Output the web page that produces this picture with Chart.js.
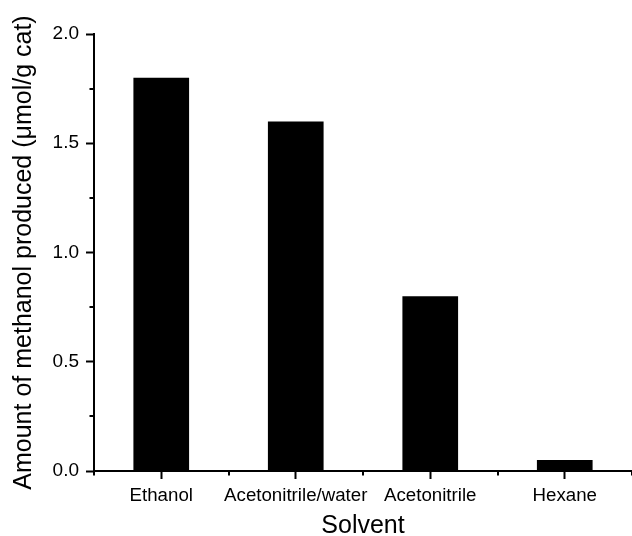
<!DOCTYPE html>
<html>
<head>
<meta charset="utf-8">
<script src="https://cdn.jsdelivr.net/npm/chart.js@4/dist/chart.umd.min.js"></script>
<style>
  html, body { margin: 0; padding: 0; background: #ffffff; }
  #wrap { width: 632px; height: 536px; }
</style>
</head>
<body>
<div id="wrap"><canvas id="c" width="632" height="536"></canvas></div>
<script>
// Methanol yield per solvent
const solvents = ['Ethanol', 'Acetonitrile/water', 'Acetonitrile', 'Hexane'];
const methanolYield = [1.80, 1.60, 0.80, 0.05];
const yMajorStep = 0.5;
const yMin = 0;
const yMax = 2.0;
const yMinorTicks = [0.25, 0.75, 1.25, 1.75];

const FONT = '"Liberation Sans", Arial, Helvetica, sans-serif';

// Short outward minor ticks on both axes
const minorTicks = {
  id: 'minorTicks',
  afterDraw(chart) {
    const { ctx, scales: { x, y }, chartArea } = chart;
    ctx.save();
    ctx.strokeStyle = '#000';
    ctx.lineWidth = 2;
    ctx.beginPath();
    yMinorTicks.forEach(v => {
      const py = Math.round(y.getPixelForValue(v));
      ctx.moveTo(chartArea.left - 4.5, py);
      ctx.lineTo(chartArea.left, py);
    });
    const half = (x.getPixelForValue(1) - x.getPixelForValue(0)) / 2;
    for (let i = 0; i <= solvents.length; i++) {
      const px = Math.round(x.getPixelForValue(i) - half);
      ctx.moveTo(px, chartArea.bottom);
      ctx.lineTo(px, chartArea.bottom + 4.5);
    }
    ctx.stroke();
    ctx.restore();
  }
};

new Chart(document.getElementById('c'), {
  type: 'bar',
  data: {
    labels: solvents,
    datasets: [{
      data: methanolYield,
      backgroundColor: '#000000',
      borderWidth: 0,
      barPercentage: 0.414,
      categoryPercentage: 1.0
    }]
  },
  options: {
    responsive: false,
    devicePixelRatio: 1,
    animation: false,
    layout: { padding: { top: 34, right: 0, bottom: 0, left: 0 } },
    plugins: { legend: { display: false }, tooltip: { enabled: false } },
    scales: {
      x: {
        offset: true,
        afterFit(scale) { scale.height = 65; },
        grid: {
          offset: false,
          drawOnChartArea: false,
          drawTicks: true,
          tickLength: 8,
          tickWidth: 2,
          tickColor: '#000'
        },
        border: { display: true, color: '#000', width: 2 },
        ticks: {
          color: '#000',
          padding: 6,
          maxRotation: 0,
          autoSkip: false,
          font: { family: FONT, size: 18.7 }
        },
        title: {
          display: true,
          text: 'Solvent',
          color: '#000',
          font: { family: FONT, size: 25, lineHeight: 1 },
          padding: { top: 0, bottom: -3 }
        }
      },
      y: {
        min: yMin,
        max: yMax,
        afterFit(scale) { scale.width = 94; },
        grid: {
          drawOnChartArea: false,
          drawTicks: true,
          tickLength: 8,
          tickWidth: 2,
          tickColor: '#000'
        },
        border: { display: true, color: '#000', width: 2 },
        ticks: {
          stepSize: yMajorStep,
          color: '#000',
          padding: 7,
          font: { family: FONT, size: 19 },
          callback: v => Number(v).toFixed(1)
        },
        title: {
          display: true,
          text: 'Amount of methanol produced (μmol/g cat)',
          color: '#000',
          font: { family: FONT, size: 25 },
          padding: { top: 9, bottom: 0 }
        }
      }
    }
  },
  plugins: [minorTicks]
});
</script>
</body>
</html>
